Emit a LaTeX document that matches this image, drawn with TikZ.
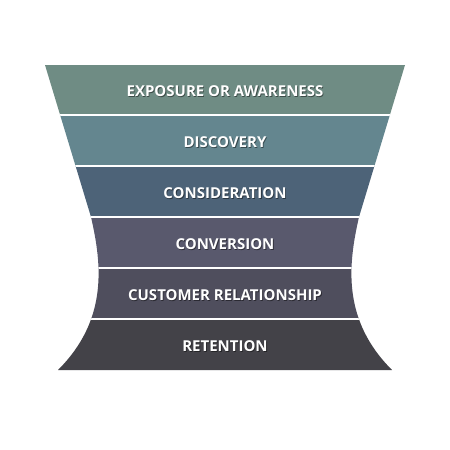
\documentclass[tikz,border=0pt]{standalone}
\usepackage{fontspec}
\setmainfont{Open Sans}
\definecolor{b1}{HTML}{6F8C84}
\definecolor{b2}{HTML}{64868F}
\definecolor{b3}{HTML}{4D6378}
\definecolor{b4}{HTML}{59596D}
\definecolor{b5}{HTML}{4F4E5D}
\definecolor{b6}{HTML}{434248}
\tikzset{
  lbl/.style={text=white,font=\bfseries\fontsize{15}{17}\selectfont,inner sep=0pt},
  shd/.style={text=black,opacity=0.45,font=\bfseries\fontsize{15}{17}\selectfont,inner sep=0pt},
  sep/.style={white,line width=1.3pt}
}
\newcommand{\funnelpath}{(45,65) -- (91,217) .. controls (102,265) and (108,320) .. (58,370) -- (392,370) .. controls (342,320) and (348,265) .. (359,217) -- (405,65) -- cycle}
\begin{document}
\begin{tikzpicture}[x=1pt,y=-1pt]
\useasboundingbox (0,0) rectangle (450,450);
\fill[white] (0,0) rectangle (450,450);
\begin{scope}
\clip \funnelpath;
\fill[b1] (0,65) rectangle (450,115);
\fill[b2] (0,115) rectangle (450,166);
\fill[b3] (0,166) rectangle (450,217);
\fill[b4] (0,217) rectangle (450,268);
\fill[b5] (0,268) rectangle (450,319);
\fill[b6] (0,319) rectangle (450,371);
\draw[sep] (0,115) -- (450,115);
\draw[sep] (0,166) -- (450,166);
\draw[sep] (0,217) -- (450,217);
\draw[sep] (0,268) -- (450,268);
\draw[sep] (0,319) -- (450,319);
\end{scope}
\foreach \t/\y/\n in {EXPOSURE OR AWARENESS/91/t1, DISCOVERY/142/t2, CONSIDERATION/193/t3, CONVERSION/244/t4, CUSTOMER RELATIONSHIP/295/t5, RETENTION/346/t6}{
  \node[shd] (\n s) at (225.8,\y+0.8) {\t};
  \node[lbl] (\n) at (225,\y) {\t};
}
\end{tikzpicture}
\end{document}
